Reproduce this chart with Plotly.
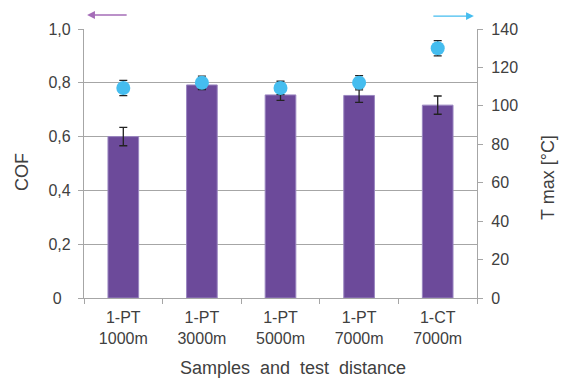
import plotly.graph_objects as go

categories = ["1-PT<br>1000m", "1-PT<br>3000m", "1-PT<br>5000m", "1-PT<br>7000m", "1-CT<br>7000m"]
cof = [0.60, 0.792, 0.755, 0.753, 0.717]
cof_err = [0.034, 0.015, 0.02, 0.026, 0.034]
tmax = [109.3, 112.0, 109.3, 112.0, 130.0]
tmax_err = [4.0, 3.5, 3.5, 3.7, 4.0]
cof_ticks = [0, 0.2, 0.4, 0.6, 0.8, 1.0]
cof_ticktext = ["0\u2007", "0,2", "0,4", "0,6", "0,8", "1,0"]
t_ticks = [0, 20, 40, 60, 80, 100, 120, 140]

font_fam = "Liberation Sans, Arial, sans-serif"
gray_txt = "#404040"
grid = "#A6A6A6"

L, R, T, B = 84, 88, 29, 82
W, H = 565, 380
PW, PH = W - L - R, H - T - B


def px(xp, yp):
    return (xp - L) / PW, (H - B - yp) / PH


fig = go.Figure()
fig.add_trace(go.Bar(
    x=categories, y=cof, width=0.39,
    marker=dict(color="#6C4A9A", line=dict(color="#9A86C0", width=1)),
    error_y=dict(type="data", array=cof_err, color="#222222", thickness=1.3, width=4),
    showlegend=False, yaxis="y"))
fig.add_trace(go.Scatter(
    x=categories, y=tmax, mode="markers",
    marker=dict(color="#45BDEF", size=14),
    error_y=dict(type="data", array=tmax_err, color="#222222", thickness=1.3, width=4),
    showlegend=False, yaxis="y2"))

fig.update_layout(
    width=W, height=H,
    margin=dict(l=L, r=R, t=T, b=B),
    paper_bgcolor="white", plot_bgcolor="white",
    font=dict(family=font_fam, color=gray_txt, size=16),
    xaxis=dict(
        type="category", tickson="boundaries", ticks="outside", ticklen=5,
        tickcolor=grid, showline=True, linecolor=grid, linewidth=1.3,
        showgrid=False, tickfont=dict(size=16, color=gray_txt), ticklabelstandoff=5,
    ),
    yaxis=dict(
        range=[0, 1.0], tickvals=cof_ticks, ticktext=cof_ticktext,
        ticks="outside", ticklen=5, tickcolor=grid, showline=True, linecolor=grid, linewidth=1.3,
        showgrid=True, gridcolor=grid, gridwidth=1.3, zeroline=False,
        tickfont=dict(size=16, color=gray_txt), ticklabelstandoff=4,
    ),
    yaxis2=dict(
        range=[0, 140], tickvals=t_ticks,
        overlaying="y", side="right", anchor="x",
        ticks="outside", ticklen=5, tickcolor=grid, showline=True, linecolor=grid, linewidth=1.3,
        showgrid=False, zeroline=False,
        tickfont=dict(size=16, color=gray_txt), ticklabelstandoff=5,
    ),
)

# axis titles
x0, y0 = px(22, 172)
fig.add_annotation(xref="paper", yref="paper", x=x0, y=y0, text="COF",
                   textangle=-90, showarrow=False, font=dict(size=18, color=gray_txt),
                   xanchor="center", yanchor="middle")
x0, y0 = px(548, 178)
fig.add_annotation(xref="paper", yref="paper", x=x0, y=y0, text="T max [°C]",
                   textangle=-90, showarrow=False, font=dict(size=18, color=gray_txt),
                   xanchor="center", yanchor="middle")
x0, y0 = px(293, 368)
fig.add_annotation(xref="paper", yref="paper", x=x0, y=y0,
                   text="Samples  and  test  distance",
                   showarrow=False, font=dict(size=18, color=gray_txt),
                   xanchor="center", yanchor="middle")

# direction arrows
fig.add_annotation(xref="x domain", yref="y domain", x=0.008, y=1.052, ax=41, ay=0,
                   showarrow=True, text="",
                   arrowhead=2, arrowsize=1.2, arrowwidth=1.3, arrowcolor="#A56DB8")
fig.add_annotation(xref="x domain", yref="y domain", x=0.992, y=1.048, ax=-42, ay=0,
                   showarrow=True, text="",
                   arrowhead=2, arrowsize=1.2, arrowwidth=1.3, arrowcolor="#45BDEF")

fig.write_html("out.html")
